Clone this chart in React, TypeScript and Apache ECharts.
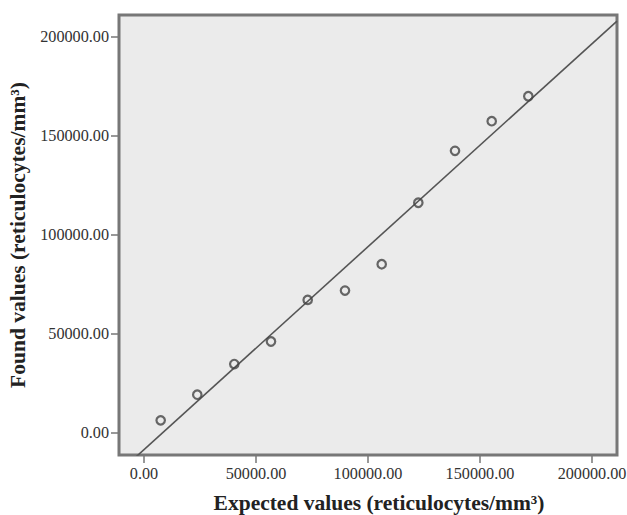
import React, { useEffect, useRef } from "react";
import * as echarts from "echarts";

const expectedValues = [7455, 23795, 40312, 56696, 73080, 89732, 106116, 122456, 138840, 155223, 171563];
const foundValues = [6354, 19315, 34797, 46194, 67223, 71913, 85227, 116292, 142515, 157493, 170100];
const tickValues = [0, 50000, 100000, 150000, 200000];
const axisMin = -11150;
const axisMax = 211150;
const xTitle = "Expected values (reticulocytes/mm³)";
const yTitle = "Found values (reticulocytes/mm³)";

function regression(xs: number[], ys: number[]) {
  const n = xs.length;
  const mx = xs.reduce((a, b) => a + b, 0) / n;
  const my = ys.reduce((a, b) => a + b, 0) / n;
  let sxy = 0;
  let sxx = 0;
  for (let i = 0; i < n; i++) {
    sxy += (xs[i] - mx) * (ys[i] - my);
    sxx += (xs[i] - mx) * (xs[i] - mx);
  }
  const slope = sxy / sxx;
  return { slope, intercept: my - slope * mx };
}

export default function App() {
  const ref = useRef<HTMLDivElement>(null);
  useEffect(() => {
    if (!ref.current) return;
    const chart = echarts.init(ref.current, null, { renderer: "svg" });
    const { slope, intercept } = regression(expectedValues, foundValues);
    const fitData = [
      [axisMin, intercept + slope * axisMin],
      [axisMax, intercept + slope * axisMax],
    ];
    const font = "Liberation Serif";
    const axisCommon = {
      type: "value" as const,
      min: axisMin,
      max: axisMax,
      splitLine: { show: false },
      axisLine: { show: false, onZero: false },
      axisTick: {
        show: true,
        length: 8,
        customValues: tickValues,
        lineStyle: { color: "#777", width: 1.5 },
      },
      axisLabel: {
        customValues: tickValues,
        formatter: (v: number) => v.toFixed(2),
        fontFamily: font,
        fontSize: 16.2,
        color: "#333",
      },
      nameLocation: "middle" as const,
      nameTextStyle: {
        fontFamily: font,
        fontSize: 21.5,
        fontWeight: "bold" as const,
        color: "#222",
      },
    };
    chart.setOption({
      animation: false,
      backgroundColor: "#ffffff",
      grid: {
        left: 119,
        top: 15,
        right: 10,
        bottom: 60,
        containLabel: false,
        outerBoundsMode: "none",
        show: true,
        backgroundColor: "#ebebeb",
        borderColor: "#777777",
        borderWidth: 3,
      },
      xAxis: {
        ...axisCommon,
        name: xTitle,
        nameGap: 37,
        nameTextStyle: { ...axisCommon.nameTextStyle, padding: [0, 0, 0, 22] },
        axisLabel: { ...axisCommon.axisLabel, margin: 11 },
      },
      yAxis: {
        ...axisCommon,
        name: yTitle,
        nameGap: 77,
        axisLabel: { ...axisCommon.axisLabel, margin: 10 },
      },
      series: [
        {
          type: "line",
          data: fitData,
          symbol: "none",
          clip: true,
          lineStyle: { color: "#555", width: 1.6 },
          z: 2,
        },
        {
          type: "scatter",
          data: expectedValues.map((x, i) => [x, foundValues[i]]),
          symbol: "circle",
          symbolSize: 8.5,
          itemStyle: { color: "rgba(0,0,0,0)", borderColor: "#444", borderWidth: 2.2 },
          z: 3,
        },
      ],
    });
    return () => chart.dispose();
  }, []);
  return (
    <div
      ref={ref}
      style={{ position: "fixed", left: 0, top: 0, width: 627, height: 515 }}
    />
  );
}
